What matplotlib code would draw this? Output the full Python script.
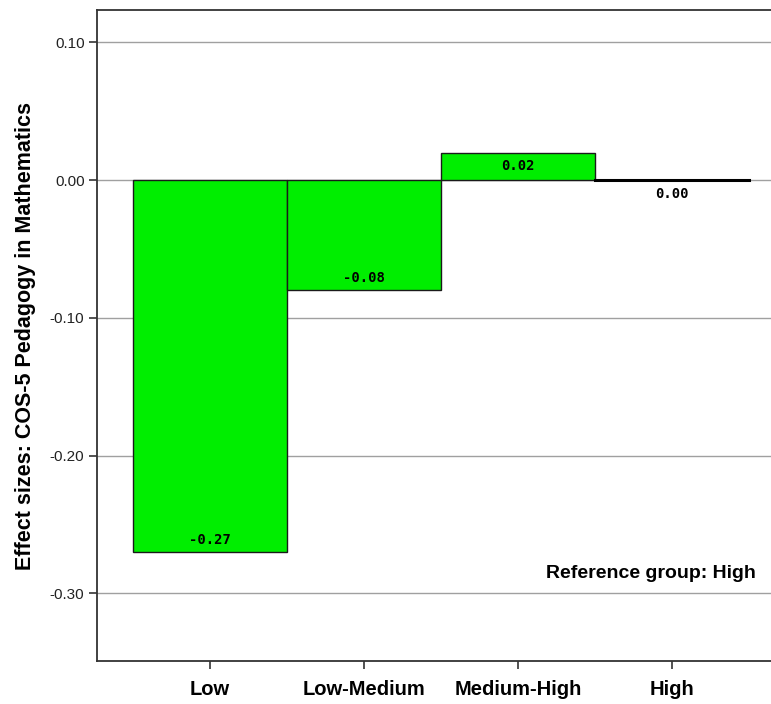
import matplotlib
matplotlib.use("Agg")
import matplotlib.pyplot as plt

plt.rcParams['font.family'] = ['Liberation Sans', 'DejaVu Sans']

groups = ['Low', 'Low-Medium', 'Medium-High', 'High']
effects = [-0.27, -0.08, 0.02, 0.00]
yticks = [0.10, 0.00, -0.10, -0.20, -0.30]

W, H = 771, 704
fig = plt.figure(figsize=(W / 100, H / 100), dpi=100)
ax = fig.add_axes([97 / W, 1 - 661 / H, (771 - 97) / W, (661 - 10) / H])

x = list(range(len(groups)))
for yv in yticks:
    ax.axhline(yv, color='#a0a0a0', lw=1.0, zorder=0)

bars = ax.bar(x, effects, width=1.0, color='#00ee00', edgecolor='#1a1a1a', lw=1.0, zorder=2)
# zero-height bar shows as a thick line
ax.plot([x[3] - 0.5, x[3] + 0.5], [0, 0], color='black', lw=2.2, zorder=3)

for xi, v in zip(x, effects):
    off = 9 if v < 0 else -10
    ax.annotate('%.2f' % v, (xi, v), xytext=(0, off), textcoords='offset points',
                ha='center', va='center', fontsize=10, fontweight='bold',
                family='DejaVu Sans Mono')

ax.set_xlim(-0.734, 3.643)
ax.set_ylim(-0.349, 0.1235)
ax.set_xticks(x)
ax.set_xticklabels(groups, fontsize=14.5, fontweight='bold')
ax.set_yticks(yticks)
ax.set_yticklabels(['%.2f' % t for t in yticks], fontsize=11, color='#222222')
ax.tick_params(axis='both', direction='out', length=6, width=1.2, color='#333333')
ax.tick_params(axis='x', pad=8)
ax.tick_params(axis='y', pad=3)

for s in ['left', 'top', 'bottom']:
    ax.spines[s].set_linewidth(1.3)
    ax.spines[s].set_color('#333333')
ax.spines['right'].set_visible(False)

ax.set_ylabel('Effect sizes: COS-5 Pedagogy in Mathematics', fontsize=15.5, fontweight='bold', labelpad=10)
ax.text(0.978, 0.135, 'Reference group: High', transform=ax.transAxes,
        ha='right', va='center', fontsize=14, fontweight='bold')

fig.savefig('out.png', dpi=100)
